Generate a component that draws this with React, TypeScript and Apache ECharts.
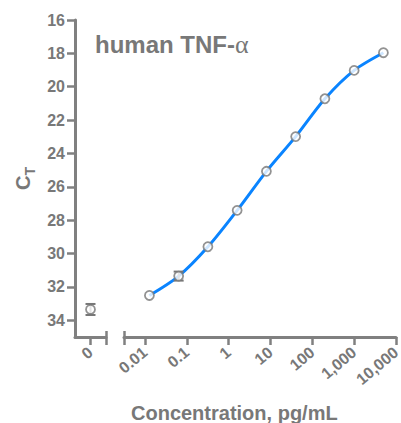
import React, { useEffect, useRef } from "react";
import * as echarts from "echarts";

// ---- data ----
const concentrations = [0.0128, 0.064, 0.32, 1.6, 8, 40, 200, 1000, 5000]; // pg/mL
const ctValues = [32.51, 31.35, 29.59, 27.41, 25.07, 22.99, 20.72, 19.02, 17.96];
const ctErrors = [0, 0.27, 0, 0, 0, 0, 0, 0, 0];
const zeroCt = 33.35;
const zeroErr = 0.33;
const logTicks = [-2, -1, 0, 1, 2, 3, 4];
const logTickLabels = ["0.01", "0.1", "1", "10", "100", "1,000", "10,000"];
const yTicks = [16, 18, 20, 22, 24, 26, 28, 30, 32, 34];

const GREY = "#787878";
const AXIS = "#808080";
const BLUE = "#0A84FF";
const FONT = "'Liberation Sans', Arial, sans-serif";

export default function App() {
  const ref = useRef<HTMLDivElement>(null);
  useEffect(() => {
    if (!ref.current) return;
    const chart = echarts.init(ref.current, null, { renderer: "svg" });

    const logData = concentrations.map((c, i) => [Math.log10(c), ctValues[i]]);
    const errData = concentrations
      .map((c, i) => [Math.log10(c), ctValues[i] - ctErrors[i], ctValues[i] + ctErrors[i], ctErrors[i]])
      .filter((d) => d[3] > 0);

    const errRender = (params: any, api: any) => {
      const x = api.value(0);
      const lo = api.coord([x, api.value(1)]);
      const hi = api.coord([x, api.value(2)]);
      const w = 5;
      const st = { stroke: "#777", lineWidth: 2 };
      return {
        type: "group",
        children: [
          { type: "line", shape: { x1: lo[0], y1: lo[1], x2: hi[0], y2: hi[1] }, style: st },
          { type: "line", shape: { x1: lo[0] - w, y1: lo[1], x2: lo[0] + w, y2: lo[1] }, style: st },
          { type: "line", shape: { x1: hi[0] - w, y1: hi[1], x2: hi[0] + w, y2: hi[1] }, style: st },
        ],
      };
    };

    const labelStyle = { color: GREY, fontWeight: "bold" as const, fontSize: 16, fontFamily: FONT };

    const option: any = {
      animation: false,
      backgroundColor: "#fff",
      title: {
        left: 90,
        top: 26,
        text: "{b|human TNF-}{a|α}",
        textStyle: {
          rich: {
            b: { fontSize: 24, fontWeight: "bold", color: GREY, fontFamily: FONT },
            a: { fontSize: 26, fontWeight: "normal", color: GREY, fontFamily: "'Liberation Serif', serif" },
          },
        },
      },
      graphic: [
        {
          type: "text",
          left: 131,
          top: 403,
          style: { text: "Concentration, pg/mL", fill: GREY, font: `bold 20px ${FONT}` },
        },
      ],
      grid: [
        { left: 75, width: 31, top: 20, height: 317, outerBoundsMode: "none", containLabel: false },
        { left: 124, width: 272, top: 20, height: 317, outerBoundsMode: "none", containLabel: false },
      ],
      xAxis: [
        {
          gridIndex: 0, type: "value", min: -1, max: 1, position: "bottom",
          axisLine: { onZero: false, lineStyle: { color: AXIS, width: 3 } },
          axisTick: { customValues: [0, 1], length: 8, lineStyle: { color: AXIS, width: 2.5 } },
          axisLabel: { customValues: [0], formatter: () => "0", rotate: 40, margin: 13, ...labelStyle },
          splitLine: { show: false },
        },
        {
          gridIndex: 0, type: "value", min: -1, max: 1, position: "bottom",
          axisLine: { show: false, onZero: false },
          axisTick: { customValues: [1], inside: true, length: 6, lineStyle: { color: AXIS, width: 2.5 } },
          axisLabel: { show: false },
          splitLine: { show: false },
        },
        {
          gridIndex: 1, type: "value", min: -2.5, max: 4, position: "bottom",
          axisLine: { onZero: false, lineStyle: { color: AXIS, width: 3 } },
          axisTick: { customValues: [-2.5, ...logTicks], length: 8, lineStyle: { color: AXIS, width: 2.5 } },
          axisLabel: {
            customValues: logTicks,
            formatter: (v: number) => logTickLabels[logTicks.indexOf(Math.round(v))] ?? "",
            rotate: 40, margin: 13, ...labelStyle,
          },
          splitLine: { show: false },
        },
        {
          gridIndex: 1, type: "value", min: -2.5, max: 4, position: "bottom",
          axisLine: { show: false, onZero: false },
          axisTick: { customValues: [-2.5], inside: true, length: 6, lineStyle: { color: AXIS, width: 2.5 } },
          axisLabel: { show: false },
          splitLine: { show: false },
        },
      ],
      yAxis: [
        {
          gridIndex: 0, type: "value", inverse: true, min: 16, max: 35, position: "left",
          axisLine: { show: true, onZero: false, lineStyle: { color: AXIS, width: 3 } },
          axisTick: { show: true, customValues: yTicks, length: 8, lineStyle: { color: AXIS, width: 2.5 } },
          axisLabel: { customValues: yTicks, margin: 10, ...labelStyle },
          splitLine: { show: false },
          name: "{c|C}{t|T}",
          nameLocation: "middle",
          nameRotate: 90,
          nameGap: 42,
          nameTextStyle: {
            rich: {
              c: { fontSize: 20, fontWeight: "bold", color: GREY, fontFamily: FONT, verticalAlign: "top", lineHeight: 20 },
              t: { fontSize: 14, fontWeight: "bold", color: GREY, fontFamily: FONT, verticalAlign: "top", lineHeight: 14, padding: [10, 0, 0, 0] },
            },
          },
        },
        {
          gridIndex: 1, type: "value", inverse: true, min: 16, max: 35, show: false,
          axisLine: { onZero: false },
          splitLine: { show: false },
        },
      ],
      series: [
        {
          type: "line", xAxisIndex: 2, yAxisIndex: 1, data: logData, smooth: 0.3,
          showSymbol: false, lineStyle: { color: BLUE, width: 3 }, z: 2,
        },
        {
          type: "custom", xAxisIndex: 2, yAxisIndex: 1, data: errData, renderItem: errRender, z: 3,
        },
        {
          type: "scatter", xAxisIndex: 2, yAxisIndex: 1, data: logData, symbol: "circle", symbolSize: 9,
          itemStyle: { color: "#fff", borderColor: "#777", borderWidth: 1.8 }, z: 4,
        },
        {
          type: "custom", xAxisIndex: 0, yAxisIndex: 0, data: [[0, zeroCt - zeroErr, zeroCt + zeroErr]],
          renderItem: errRender, z: 3,
        },
        {
          type: "scatter", xAxisIndex: 0, yAxisIndex: 0, data: [[0, zeroCt]], symbol: "circle", symbolSize: 9,
          itemStyle: { color: "#fff", borderColor: "#777", borderWidth: 1.8 }, z: 4,
        },
      ],
    };
    chart.setOption(option);
    return () => chart.dispose();
  }, []);
  return <div ref={ref} style={{ position: "fixed", left: 0, top: 0, width: 401, height: 423 }} />;
}
